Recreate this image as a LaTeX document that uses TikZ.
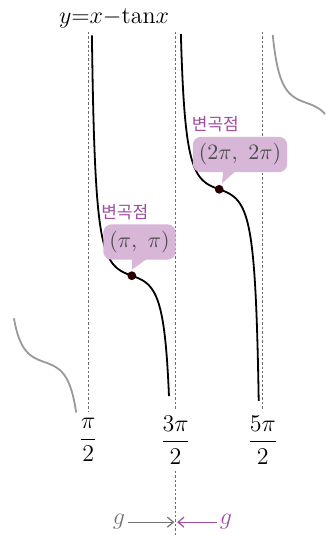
\documentclass[tikz,border=0pt]{standalone}
\usepackage{amsmath}
\usepackage{fontspec}
\usetikzlibrary{positioning, arrows.meta}
\newfontfamily\kofont{Noto Sans CJK KR}
\definecolor{inflpurple}{HTML}{A04CA0}
\definecolor{calloutfill}{HTML}{D8B6D8}
\definecolor{asymgray}{HTML}{6E6E6E}

\begin{document}
\begin{tikzpicture}[x = 13.9pt, y = 13.75pt,
    asym/.style = {asymgray, line width = 0.4pt, dash pattern = on 1.2pt off 1pt},
    curve/.style = {black, line width = 0.9pt},
    ghost/.style = {gray!80, line width = 0.9pt},
    callout/.style = {fill = calloutfill, rounded corners = 4pt, inner xsep = 3pt,
        minimum height = 13pt, text = black!70, font = \fontsize{10.5}{12}\selectfont},
    kolabel/.style = {inflpurple, inner sep = 0pt, font = \kofont\fontsize{8.5}{9}\selectfont},
    tick/.style = {font = \fontsize{12}{14}\selectfont},
    gshot/.style = {-{Straight Barb[length = 3pt, width = 5pt]}, line width = 0.6pt}]
    \useasboundingbox (-1.601,-6.287) rectangle (10.090,13.167);

    \node (title) at (2.5,12.51) [tick] {$y{=}x{-}\mathrm{tan}x$};

    % asymptotes x = pi/2, 3pi/2, 5pi/2
    \node (half1) at ({pi/2},-2.83) [tick] {$\dfrac{\pi}{2}$};
    \node (half3) at ({3*pi/2},-2.83) [tick] {$\dfrac{3\pi}{2}$};
    \node (half5) at ({5*pi/2},-2.83) [tick] {$\dfrac{5\pi}{2}$};
    \coordinate (top1) at ({pi/2},12);
    \coordinate (top3) at ({3*pi/2},12);
    \coordinate (top5) at ({5*pi/2},12);
    \coordinate (bot3) at ({3*pi/2},-6.287);
    \draw [asym] (top1) -- (half1);
    \draw [asym] (top3) -- (half3);
    \draw [asym] (top5) -- (half5);
    \draw [asym] (half3) -- (bot3);

    % neighbouring branches
    \draw [ghost] plot [domain = -1.1:1.14, samples = 120] (\x, {\x - 1.37*tan(\x r)});
    \draw [ghost] plot [domain = -1.215:0.665, samples = 120] ({3*pi + \x}, {3*pi + \x - 1.37*tan(\x r)});

    % y = x - tan x
    \draw [curve] plot [domain = -1.437:1.338, samples = 200] ({pi + \x}, {pi + \x - 1.37*tan(\x r)});
    \draw [curve] plot [domain = -1.378:1.423, samples = 200] ({2*pi + \x}, {2*pi + \x - 1.37*tan(\x r)});

    % inflection points
    \coordinate (p1) at ({pi},{pi});
    \coordinate (p2) at ({2*pi},{2*pi});

    \node (box1) at (3.417,4.367) [callout] {$(\pi,\ \pi)$};
    \coordinate (t1) at (box1.south -| p1);
    \fill [calloutfill] ([yshift = 0.5pt]t1) -- ([xshift = 7.5pt, yshift = 0.5pt]t1) -- ([yshift = 3pt]p1) -- cycle;
    \node (lab1) [kolabel, above = 2pt of box1.north west, anchor = south west, xshift = -1pt] {변곡점};

    \node (box2) at (7.032,7.549) [callout] {$(2\pi,\ 2\pi)$};
    \coordinate (t2) at (box2.south -| p2);
    \fill [calloutfill] ([xshift = 2pt, yshift = 0.5pt]t2) -- ([xshift = 8pt, yshift = 0.5pt]t2) -- ([xshift = 1.4pt, yshift = 3pt]p2) -- cycle;
    \node (lab2) [kolabel, above = 2pt of box2.north west, anchor = south west, xshift = -0.5pt] {변곡점};

    \fill [black!85!red] (p1) circle (2.2pt);
    \fill [black!85!red] (p2) circle (2.2pt);

    % g from both sides
    \coordinate (gmid) at ({3*pi/2},-5.82);
    \node (gleft) at (2.68,-5.82) [tick, black!55, inner sep = 1.5pt] {$g$};
    \node (gright) at (6.53,-5.82) [tick, inflpurple, inner sep = 1.5pt] {$g$};
    \draw [gshot, black!55] (gleft) -- ([xshift = -0.6pt]gmid);
    \draw [gshot, inflpurple] (gright) -- ([xshift = 0.8pt]gmid);
\end{tikzpicture}
\end{document}
